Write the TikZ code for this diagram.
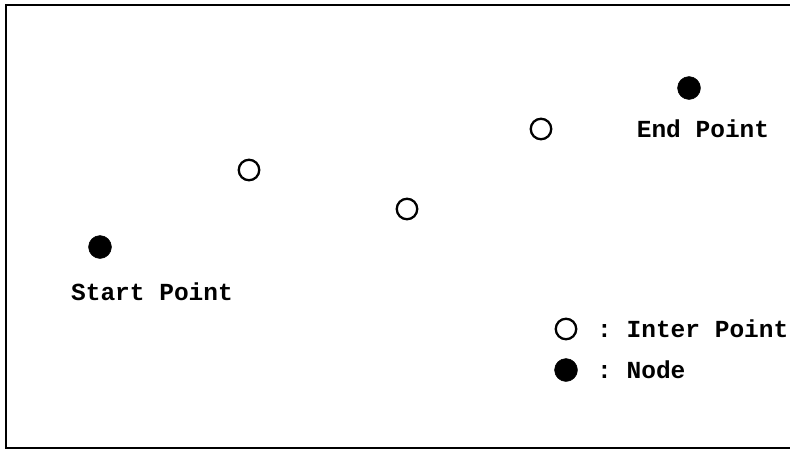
\documentclass[tikz,border=0pt]{standalone}
\usepackage{fontspec}
\setmonofont{Liberation Mono}
\begin{document}
\begin{tikzpicture}[x=1pt,y=-1pt,
  fillpt/.style={circle,fill=black,draw=black,minimum size=23pt,inner sep=0pt},
  openpt/.style={circle,draw=black,line width=2.3pt,minimum size=20.5pt,inner sep=0pt},
  lbl/.style={font=\ttfamily\bfseries\fontsize{24.5}{26}\selectfont,inner sep=0pt},
  frame/.style={line width=2.5pt}]
\useasboundingbox (0,0) rectangle (790,450);
\coordinate (tl) at (6,5);
\coordinate (tr) at (790,5);
\coordinate (bl) at (6,448);
\coordinate (br) at (790,448);
\draw[frame] (tr) -- (tl) -- (bl) -- (br);
\node[fillpt] (s) at (100,247) {};
\node[lbl] (slab) at (152,292) {Start Point};
\node[openpt] (i1) at (249,170) {};
\node[openpt] (i2) at (407,209) {};
\node[openpt] (i3) at (541,129) {};
\node[fillpt] (e) at (689,88) {};
\node[lbl] (elab) at (703,129) {End Point};
\node[openpt] (li) at (566,329) {};
\node[lbl,anchor=west] (lit) at (597,329) {: Inter Point};
\node[fillpt] (ln) at (566,370) {};
\node[lbl,anchor=west] (lnt) at (597,370) {: Node};
\end{tikzpicture}
\end{document}
